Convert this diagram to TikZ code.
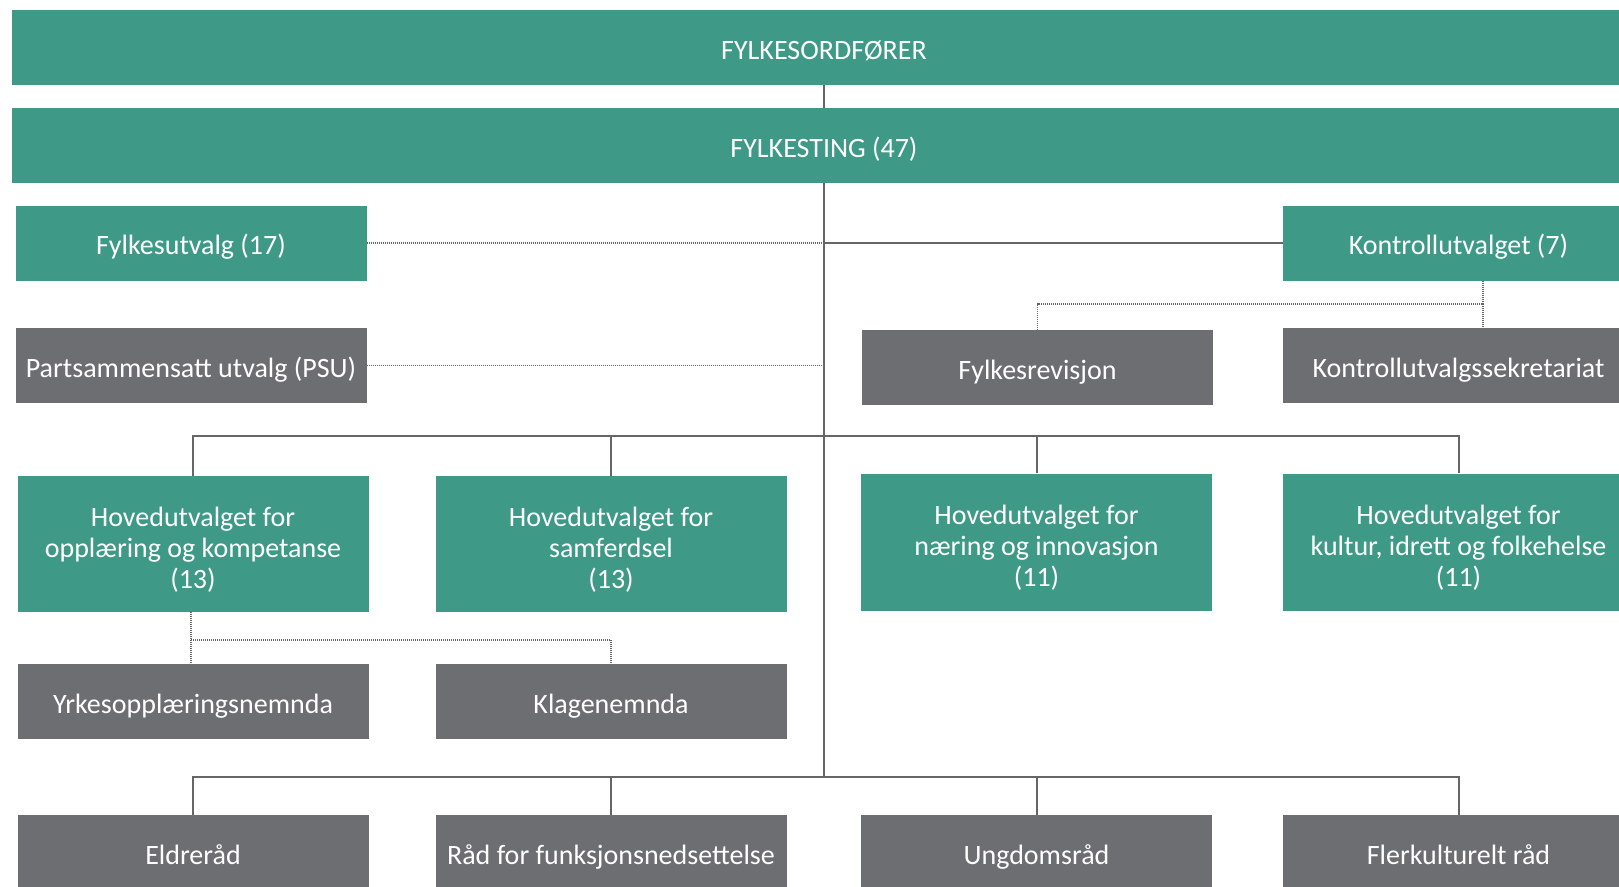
\documentclass[tikz,border=0pt]{standalone}
\usepackage{fontspec}
\setmainfont{Carlito}
\definecolor{teal}{HTML}{3E9A87}
\definecolor{greybox}{HTML}{6D6E71}
\definecolor{linecol}{HTML}{666666}
\newcommand\mytopstrut{\rule{0pt}{31pt}}
\tikzset{
  basebox/.style={rectangle, inner sep=0pt, minimum width=351pt, minimum height=75pt,
    text=white, align=center, font=\fontsize{28}{31}\selectfont},
  box/.style={basebox, text height=23pt, text depth=0pt},
  tbox/.style={box, fill=teal},
  gbox/.style={box, fill=greybox},
  mbox/.style={basebox, fill=teal},
  conn/.style={draw=linecol, line width=2pt},
  dotconn/.style={draw=linecol, line width=1.6pt, dash pattern=on 1pt off 1pt},
}
\begin{document}
\begin{tikzpicture}[x=1pt,y=-1pt]
\useasboundingbox (0,0) rectangle (1619,886);
% top bars
\node[tbox, minimum width=1624pt] (ford) at (824,47.5) {FYLKESORDFØRER};
\node[tbox, minimum width=1624pt] (fting) at (824,145.5) {FYLKESTING (47)};
% row 3
\node[tbox] (futv) at (191,243) {Fylkesutvalg (17)};
\node[tbox] (kontr) at (1458.5,243) {Kontrollutvalget (7)};
% row 4
\node[gbox] (psu) at (191,365.5) {Partsammensatt utvalg (PSU)};
\node[gbox] (frev) at (1037.5,367.5) {Fylkesrevisjon};
\node[gbox] (ksek) at (1458.5,365.5) {Kontrollutvalgssekretariat};
% row 5
\node[mbox, minimum height=136pt] (hA) at (193,544) {\mytopstrut Hovedutvalget for\\opplæring og kompetanse\\(13)};
\node[mbox, minimum height=136pt] (hB) at (611,544) {\mytopstrut Hovedutvalget for\\samferdsel\\(13)};
\node[mbox, minimum height=137pt] (hC) at (1036.5,542) {\mytopstrut Hovedutvalget for\\næring og innovasjon\\(11)};
\node[mbox, minimum height=137pt] (hD) at (1458.5,542) {\mytopstrut Hovedutvalget for\\kultur, idrett og folkehelse\\(11)};
% row 6
\node[gbox] (yrk) at (193,701.5) {Yrkesopplæringsnemnda};
\node[gbox] (klag) at (611,701.5) {Klagenemnda};
% row 7
\node[gbox] (eld) at (193,852.5) {Eldreråd};
\node[gbox] (raad) at (611,852.5) {Råd for funksjonsnedsettelse};
\node[gbox] (ungd) at (1036.5,852.5) {Ungdomsråd};
\node[gbox] (fler) at (1458.5,852.5) {Flerkulturelt råd};
% coordinates
\coordinate (bus1) at (824,435.5);
\coordinate (bus2) at (824,777);
\coordinate (kj) at (1483,304);
\coordinate (aj) at (191,640);
% main trunk
\draw[conn] (ford.south) -- (fting.north);
\draw[conn] (fting.south) -- (bus2);
% row 3/4 links
\draw[dotconn] (futv.east) -- (futv.east -| bus1);
\draw[conn] (kontr.west) -- (kontr.west -| bus1);
\draw[dotconn] (psu.east) -- (psu.east -| bus1);
\draw[dotconn] (kontr.south -| kj) -- (kj) -| (frev.north);
\draw[dotconn] (kj) -- (ksek.north -| kj);
% bus 1
\draw[conn] (hA.north) -- (hA.north |- bus1) -- (hD.north |- bus1) -- (hD.north);
\draw[conn] (hB.north) -- (hB.north |- bus1);
\draw[conn] (hC.north) -- (hC.north |- bus1);
% dotted under hA
\draw[dotconn] (hA.south -| aj) -- (yrk.north -| aj);
\draw[dotconn] (aj) -| (klag.north);
% bus 2
\draw[conn] (eld.north) -- (eld.north |- bus2) -- (fler.north |- bus2) -- (fler.north);
\draw[conn] (raad.north) -- (raad.north |- bus2);
\draw[conn] (ungd.north) -- (ungd.north |- bus2);
\end{tikzpicture}
\end{document}
